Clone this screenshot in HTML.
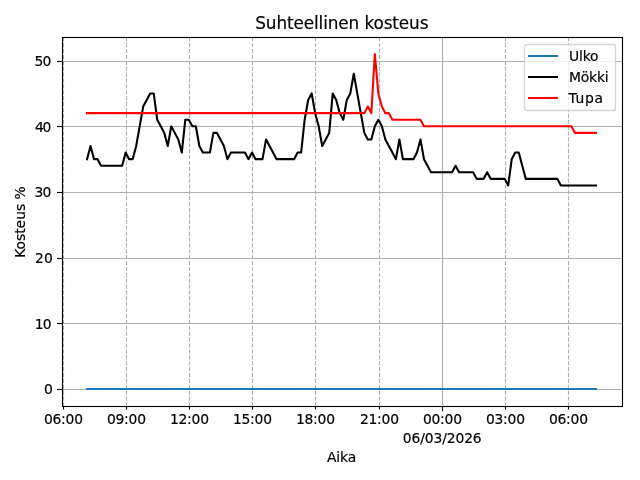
<!DOCTYPE html>
<html lang="fi"><head><meta charset="utf-8"><title>Suhteellinen kosteus</title>
<style>html,body{margin:0;padding:0;background:#fff;overflow:hidden}svg{display:block;font-family:"DejaVu Sans","Liberation Sans",sans-serif}text{fill:#000;stroke:#000;stroke-width:0.18px}.c{font-size:13.89px}</style></head><body>
<svg width="640" height="480" viewBox="0 0 640 480">
<rect width="640" height="480" fill="#fff"/>
<g stroke="#b0b0b0" stroke-width="1.11" fill="none">
<line x1="63.5" y1="406.5" x2="63.5" y2="37.5" stroke-dasharray="4.11 1.78"/>
<line x1="126.5" y1="406.5" x2="126.5" y2="37.5" stroke-dasharray="4.11 1.78"/>
<line x1="189.5" y1="406.5" x2="189.5" y2="37.5" stroke-dasharray="4.11 1.78"/>
<line x1="252.5" y1="406.5" x2="252.5" y2="37.5" stroke-dasharray="4.11 1.78"/>
<line x1="315.5" y1="406.5" x2="315.5" y2="37.5" stroke-dasharray="4.11 1.78"/>
<line x1="379.5" y1="406.5" x2="379.5" y2="37.5" stroke-dasharray="4.11 1.78"/>
<line x1="442.5" y1="406.5" x2="442.5" y2="37.5" stroke-dasharray="4.11 1.78"/>
<line x1="505.5" y1="406.5" x2="505.5" y2="37.5" stroke-dasharray="4.11 1.78"/>
<line x1="568.5" y1="406.5" x2="568.5" y2="37.5" stroke-dasharray="4.11 1.78"/>
<line x1="442.5" y1="406.5" x2="442.5" y2="37.5"/>
<line x1="62.5" y1="389.5" x2="622.5" y2="389.5"/>
<line x1="62.5" y1="323.5" x2="622.5" y2="323.5"/>
<line x1="62.5" y1="258.5" x2="622.5" y2="258.5"/>
<line x1="62.5" y1="192.5" x2="622.5" y2="192.5"/>
<line x1="62.5" y1="126.5" x2="622.5" y2="126.5"/>
<line x1="62.5" y1="61.5" x2="622.5" y2="61.5"/>
</g>
<g fill="none" stroke-width="2.08" stroke-linejoin="round" stroke-linecap="square">
<line x1="87.04" y1="389" x2="595.96" y2="389" stroke="#1f77b4" stroke-width="2"/>
<polyline stroke="#000" points="87.04,159.15 90.55,146.01 94.06,159.15 97.57,159.15 101.08,165.72 104.59,165.72 108.10,165.72 111.61,165.72 115.12,165.72 118.63,165.72 122.14,165.72 125.65,152.58 129.16,159.15 132.67,159.15 136.18,146.01 139.69,126.30 143.20,106.59 146.71,100.02 150.22,93.45 153.73,93.45 157.24,119.73 160.75,126.30 164.26,132.87 167.77,146.01 171.28,126.30 174.78,132.87 178.29,139.44 181.80,152.58 185.31,119.73 188.82,119.73 192.33,126.30 195.84,126.30 199.35,146.01 202.86,152.58 206.37,152.58 209.88,152.58 213.39,132.87 216.90,132.87 220.41,139.44 223.92,146.01 227.43,159.15 230.94,152.58 234.45,152.58 237.96,152.58 241.47,152.58 244.98,152.58 248.49,159.15 252.00,152.58 255.51,159.15 259.02,159.15 262.53,159.15 266.04,139.44 269.55,146.01 273.06,152.58 276.57,159.15 280.08,159.15 283.59,159.15 287.10,159.15 290.61,159.15 294.12,159.15 297.63,152.58 301.14,152.58 304.65,119.73 308.16,100.02 311.67,93.45 315.18,113.16 318.69,126.30 322.20,146.01 325.71,139.44 329.22,132.87 332.73,93.45 336.24,100.02 339.75,113.16 343.26,119.73 346.77,100.02 350.28,93.45 353.78,73.74 357.29,93.45 360.80,113.16 364.31,132.87 367.82,139.44 371.33,139.44 374.84,126.30 378.35,119.73 381.86,126.30 385.37,139.44 388.88,146.01 392.39,152.58 395.90,159.15 399.41,139.44 402.92,159.15 406.43,159.15 409.94,159.15 413.45,159.15 416.96,152.58 420.47,139.44 423.98,159.15 427.49,165.72 431.00,172.29 434.51,172.29 438.02,172.29 441.53,172.29 445.04,172.29 448.55,172.29 452.06,172.29 455.57,165.72 459.08,172.29 462.59,172.29 466.10,172.29 469.61,172.29 473.12,172.29 476.63,178.86 480.14,178.86 483.65,178.86 487.16,172.29 490.67,178.86 494.18,178.86 497.69,178.86 501.20,178.86 504.71,178.86 508.22,185.43 511.73,159.15 515.24,152.58 518.75,152.58 522.26,165.72 525.76,178.86 529.27,178.86 532.78,178.86 536.29,178.86 539.80,178.86 543.31,178.86 546.82,178.86 550.33,178.86 553.84,178.86 557.35,178.86 560.86,185.43 564.37,185.43 567.88,185.43 571.39,185.43 574.90,185.43 578.41,185.43 581.92,185.43 585.43,185.43 588.94,185.43 592.45,185.43 595.96,185.43"/>
<polyline stroke="#f00" points="87.04,113.16 90.55,113.16 94.06,113.16 97.57,113.16 101.08,113.16 104.59,113.16 108.10,113.16 111.61,113.16 115.12,113.16 118.63,113.16 122.14,113.16 125.65,113.16 129.16,113.16 132.67,113.16 136.18,113.16 139.69,113.16 143.20,113.16 146.71,113.16 150.22,113.16 153.73,113.16 157.24,113.16 160.75,113.16 164.26,113.16 167.77,113.16 171.28,113.16 174.78,113.16 178.29,113.16 181.80,113.16 185.31,113.16 188.82,113.16 192.33,113.16 195.84,113.16 199.35,113.16 202.86,113.16 206.37,113.16 209.88,113.16 213.39,113.16 216.90,113.16 220.41,113.16 223.92,113.16 227.43,113.16 230.94,113.16 234.45,113.16 237.96,113.16 241.47,113.16 244.98,113.16 248.49,113.16 252.00,113.16 255.51,113.16 259.02,113.16 262.53,113.16 266.04,113.16 269.55,113.16 273.06,113.16 276.57,113.16 280.08,113.16 283.59,113.16 287.10,113.16 290.61,113.16 294.12,113.16 297.63,113.16 301.14,113.16 304.65,113.16 308.16,113.16 311.67,113.16 315.18,113.16 318.69,113.16 322.20,113.16 325.71,113.16 329.22,113.16 332.73,113.16 336.24,113.16 339.75,113.16 343.26,113.16 346.77,113.16 350.28,113.16 353.78,113.16 357.29,113.16 360.80,113.16 364.31,113.16 367.82,106.59 371.33,113.16 374.84,54.03 378.35,93.45 381.86,106.59 385.37,113.16 388.88,113.16 392.39,119.73 395.90,119.73 399.41,119.73 402.92,119.73 406.43,119.73 409.94,119.73 413.45,119.73 416.96,119.73 420.47,119.73 423.98,126.30 427.49,126.30 431.00,126.30 434.51,126.30 438.02,126.30 441.53,126.30 445.04,126.30 448.55,126.30 452.06,126.30 455.57,126.30 459.08,126.30 462.59,126.30 466.10,126.30 469.61,126.30 473.12,126.30 476.63,126.30 480.14,126.30 483.65,126.30 487.16,126.30 490.67,126.30 494.18,126.30 497.69,126.30 501.20,126.30 504.71,126.30 508.22,126.30 511.73,126.30 515.24,126.30 518.75,126.30 522.26,126.30 525.76,126.30 529.27,126.30 532.78,126.30 536.29,126.30 539.80,126.30 543.31,126.30 546.82,126.30 550.33,126.30 553.84,126.30 557.35,126.30 560.86,126.30 564.37,126.30 567.88,126.30 571.39,126.30 574.90,132.87 578.41,132.87 581.92,132.87 585.43,132.87 588.94,132.87 592.45,132.87 595.96,132.87"/>
</g>
<g stroke="#000" stroke-width="1.11">
<line x1="63.5" y1="406.5" x2="63.5" y2="409.60"/>
<line x1="126.5" y1="406.5" x2="126.5" y2="409.60"/>
<line x1="189.5" y1="406.5" x2="189.5" y2="409.60"/>
<line x1="252.5" y1="406.5" x2="252.5" y2="409.60"/>
<line x1="315.5" y1="406.5" x2="315.5" y2="409.60"/>
<line x1="379.5" y1="406.5" x2="379.5" y2="409.60"/>
<line x1="442.5" y1="406.5" x2="442.5" y2="411.30"/>
<line x1="505.5" y1="406.5" x2="505.5" y2="409.60"/>
<line x1="568.5" y1="406.5" x2="568.5" y2="409.60"/>
<line x1="62.5" y1="389.5" x2="57.00" y2="389.5"/>
<line x1="62.5" y1="323.5" x2="57.00" y2="323.5"/>
<line x1="62.5" y1="258.5" x2="57.00" y2="258.5"/>
<line x1="62.5" y1="192.5" x2="57.00" y2="192.5"/>
<line x1="62.5" y1="126.5" x2="57.00" y2="126.5"/>
<line x1="62.5" y1="61.5" x2="57.00" y2="61.5"/>
</g>
<rect x="62.5" y="37.5" width="560.0" height="369.0" fill="none" stroke="#000" stroke-width="1.11"/>
<g class="c">
<text x="43.90" y="424" letter-spacing="-0.225">06:00</text>
<text x="106.90" y="424" letter-spacing="-0.225">09:00</text>
<text x="169.90" y="424" letter-spacing="-0.225">12:00</text>
<text x="232.90" y="424" letter-spacing="-0.225">15:00</text>
<text x="295.90" y="424" letter-spacing="-0.225">18:00</text>
<text x="359.90" y="424" letter-spacing="-0.225">21:00</text>
<text x="422.90" y="424" letter-spacing="-0.225">00:00</text>
<text x="485.90" y="424" letter-spacing="-0.225">03:00</text>
<text x="548.90" y="424" letter-spacing="-0.225">06:00</text>
<text x="402.83" y="443" letter-spacing="-0.123">06/03/2026</text>
<text x="43.98" y="394" letter-spacing="0.000">0</text>
<text x="34.70" y="329" letter-spacing="-0.720">10</text>
<text x="35.04" y="263" letter-spacing="0.030">20</text>
<text x="34.59" y="197" letter-spacing="-0.900">30</text>
<text x="35.04" y="132" letter-spacing="-1.320">40</text>
<text x="34.54" y="66" letter-spacing="-0.790">50</text>
<text x="326.99" y="462" letter-spacing="-0.123">Aika</text>
<text transform="translate(24.7,256.45) rotate(-90)" x="-1.37" y="0" letter-spacing="-0.033">Kosteus %</text>
</g>
<text x="341.8" y="29" font-size="16.9px" letter-spacing="-0.125" text-anchor="middle">Suhteellinen kosteus</text>
<rect x="524.5" y="44.5" width="91" height="66" rx="2.8" ry="2.8" fill="#fff" fill-opacity="0.8" stroke="#ccc" stroke-opacity="0.8" stroke-width="1.39"/>
<g stroke-width="2" stroke-linecap="square">
<line x1="529" y1="56" x2="557" y2="56" stroke="#1f77b4"/>
<line x1="529" y1="77" x2="557" y2="77" stroke="#000"/>
<line x1="529" y1="98" x2="557" y2="98" stroke="#f00"/>
</g>
<g class="c">
<text x="569.09" y="61" letter-spacing="-0.197">Ulko</text>
<text x="568.90" y="82" letter-spacing="-0.158">Mökki</text>
<text x="568.58" y="103" letter-spacing="0.650">Tupa</text>
</g>
</svg></body></html>
